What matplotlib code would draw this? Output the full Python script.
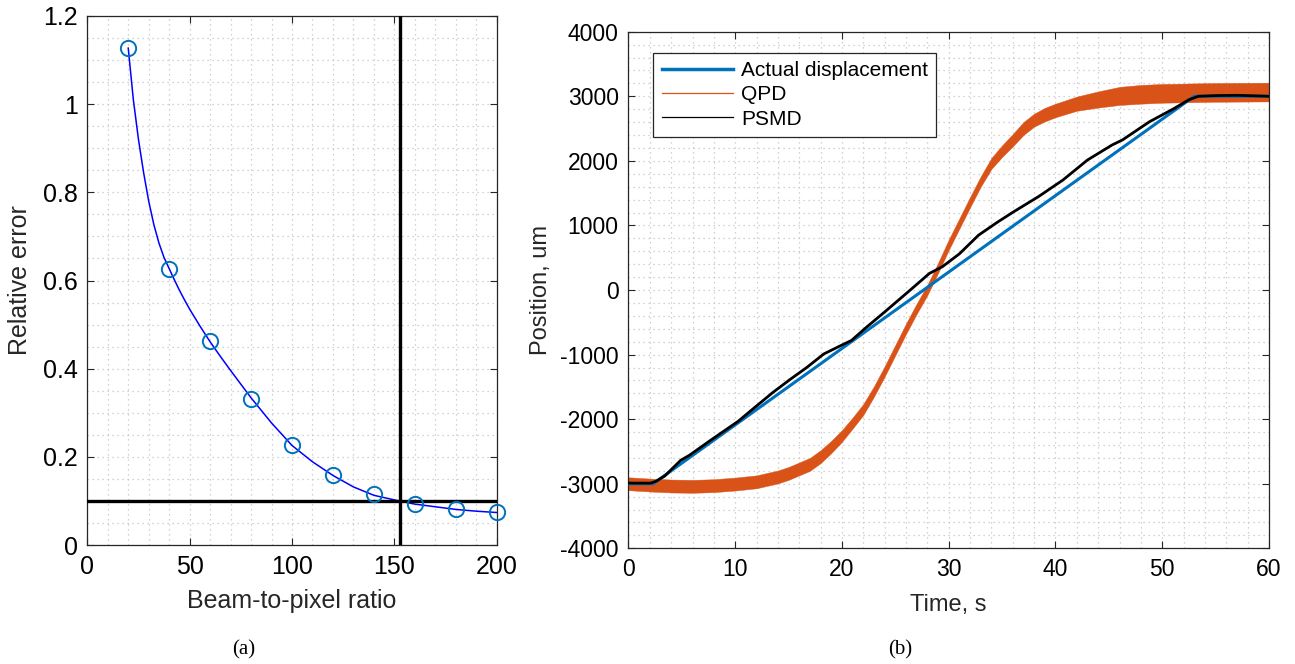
import matplotlib
matplotlib.use("Agg")
import matplotlib.pyplot as plt
from matplotlib.lines import Line2D
from matplotlib.ticker import MultipleLocator
import numpy as np

# Panel (a): relative error against beam-to-pixel ratio
ratio_points = [20, 40, 60, 80, 100, 120, 140, 160, 180, 200]
error_points = [1.128, 0.627, 0.462, 0.331, 0.227, 0.158, 0.117, 0.094, 0.083, 0.076]

# fitted curve
ratio_fit = [20, 22.5, 25, 27.5, 30, 32.5, 35, 37.5, 40, 42.5, 45, 47.5, 50, 55, 60, 65,
             70, 80, 90, 100, 110, 120, 130, 140, 152.5, 160, 170, 180, 190, 200]
error_fit = [1.127, 1.01, 0.92, 0.845, 0.78, 0.727, 0.685, 0.652, 0.627, 0.602, 0.578,
             0.556, 0.535, 0.497, 0.461, 0.428, 0.396, 0.334, 0.277, 0.226, 0.189,
             0.158, 0.132, 0.113, 0.100, 0.093, 0.087, 0.081, 0.077, 0.074]

threshold_error = 0.1
threshold_ratio = 152.5

# Panel (b): position against time
actual_t = [0, 2.3, 53.0, 60]
actual_pos = [-3000, -3000, 3000, 3000]

qpd_t = [0, 2, 4, 6, 8, 10, 12, 14, 15, 16, 17, 18, 19, 20, 21, 22, 23, 24, 25, 26, 27,
         28, 29, 30, 31, 32, 33, 34, 35, 36, 37, 38, 39, 40, 42, 44, 46, 48, 50, 55, 60]
qpd_pos = [-3000, -3020, -3035, -3040, -3030, -3005, -2970, -2895, -2840, -2770, -2700,
           -2580, -2430, -2260, -2060, -1850, -1570, -1260, -930, -600, -290,
           0, 340, 700, 1030, 1360, 1680, 1960, 2150, 2320, 2500, 2630, 2715, 2780,
           2885, 2950, 3005, 3030, 3045, 3060, 3065]
# half height of the noisy QPD band
qpd_spread = [100, 100, 100, 100, 100, 100, 100, 100, 100, 100, 100,
              100, 95, 90, 85, 85, 80, 80, 80, 80, 80,
              80, 80, 80, 80, 80, 80, 85, 90, 95, 100, 100, 105, 105,
              110, 125, 140, 145, 145, 145, 145]

psmd_t = [0, 2.1, 2.6, 3.4, 4.9, 5.7, 7.7, 10.3, 11.6, 13.5, 15.1, 16.7, 18.3, 19.9,
          20.9, 22.2, 24, 26.4, 28.2, 29.4, 31, 32.8, 34.6, 36.1, 38.4, 40.7, 43, 45.3,
          46.3, 48.8, 51, 52.5, 53.4, 55, 57, 60]
psmd_pos = [-2990, -2990, -2960, -2880, -2636, -2560, -2326, -2030, -1850, -1590, -1390,
            -1200, -990, -860, -780, -590, -340, 0, 258, 360, 560, 850, 1054, 1213,
            1445, 1703, 2013, 2245, 2326, 2605, 2800, 2946, 3000, 3010, 3015, 3000]

matlab_blue = "#0072BD"
matlab_orange = "#D95319"
grid_color = "#c4c4c4"
spine_color = "#262626"

plt.rcParams["font.family"] = ["Liberation Sans", "DejaVu Sans"]
plt.rcParams["axes.unicode_minus"] = False

fig = plt.figure(figsize=(12.95, 6.64), dpi=100)
ax1 = fig.add_axes([0.0674, 0.179, 0.3162, 0.797])
ax2 = fig.add_axes([0.4853, 0.1742, 0.4946, 0.7781])


def style_axes(ax, size):
    for side in ax.spines.values():
        side.set_color(spine_color)
        side.set_linewidth(0.9)
    ax.tick_params(which="major", direction="in", length=5, width=0.8, color=spine_color,
                   top=True, right=True, labelsize=size, pad=7)
    ax.tick_params(which="minor", length=0, top=True, right=True)
    ax.grid(True, which="both", linestyle=(0, (1, 3)), color=grid_color, linewidth=0.9)
    ax.set_axisbelow(True)


# ---- panel (a)
ax1.plot(ratio_fit, error_fit, color="blue", linewidth=1.1)
ax1.plot(ratio_points, error_points, linestyle="none", marker="o", markersize=11,
         markerfacecolor="none", markeredgecolor=matlab_blue, markeredgewidth=1.4,
         clip_on=False, zorder=4)
ax1.axhline(threshold_error, color="black", linewidth=2.4, zorder=3)
ax1.axvline(threshold_ratio, color="black", linewidth=2.4, zorder=3)
ax1.set_xlim(0, 200)
ax1.set_ylim(0, 1.2)
ax1.xaxis.set_major_locator(MultipleLocator(50))
ax1.xaxis.set_minor_locator(MultipleLocator(10))
ax1.yaxis.set_minor_locator(MultipleLocator(0.05))
ax1.set_yticks(np.arange(0, 1.21, 0.2))
ax1.set_yticklabels(["0", "0.2", "0.4", "0.6", "0.8", "1", "1.2"])
style_axes(ax1, 18)
ax1.set_xlabel("Beam-to-pixel ratio", fontsize=18, color=spine_color, labelpad=7)
ax1.set_ylabel("Relative error", fontsize=18, color=spine_color, labelpad=8)

# ---- panel (b)
ax2.plot(actual_t, actual_pos, color=matlab_blue, linewidth=2.2, zorder=3)
ax2.fill_between(qpd_t, np.array(qpd_pos) - np.array(qpd_spread),
                 np.array(qpd_pos) + np.array(qpd_spread),
                 color=matlab_orange, linewidth=0.3, edgecolor=matlab_orange, zorder=2)
ax2.plot(psmd_t, psmd_pos, color="black", linewidth=2.0, zorder=4)
ax2.set_xlim(0, 60)
ax2.set_ylim(-4000, 4000)
ax2.xaxis.set_major_locator(MultipleLocator(10))
ax2.xaxis.set_minor_locator(MultipleLocator(2))
ax2.yaxis.set_major_locator(MultipleLocator(1000))
ax2.yaxis.set_minor_locator(MultipleLocator(200))
style_axes(ax2, 16.5)
ax2.set_xlabel("Time, s", fontsize=17, color=spine_color, labelpad=9)
ax2.set_ylabel("Position, um", fontsize=17, color=spine_color, labelpad=6)

handles = [Line2D([], [], color=matlab_blue, linewidth=2.5),
           Line2D([], [], color=matlab_orange, linewidth=0.9),
           Line2D([], [], color="black", linewidth=0.9)]
leg = ax2.legend(handles, ["Actual displacement", "QPD", "PSMD"], loc="upper left",
                 bbox_to_anchor=(0.039, 0.959), borderaxespad=0, fancybox=False,
                 framealpha=1, edgecolor=spine_color, handlelength=3.4,
                 prop={"size": 15}, labelspacing=0.25,
                 borderpad=0.4, handletextpad=0.4)
leg.get_frame().set_linewidth(0.9)

# captions
fig.text(244 / 1295, 1 - 650 / 664, "(a)", ha="center", va="center", fontsize=15,
         family=["Liberation Serif", "DejaVu Serif"])
fig.text(900 / 1295, 1 - 650 / 664, "(b)", ha="center", va="center", fontsize=15,
         family=["Liberation Serif", "DejaVu Serif"])

fig.savefig("out.png", dpi=100)
